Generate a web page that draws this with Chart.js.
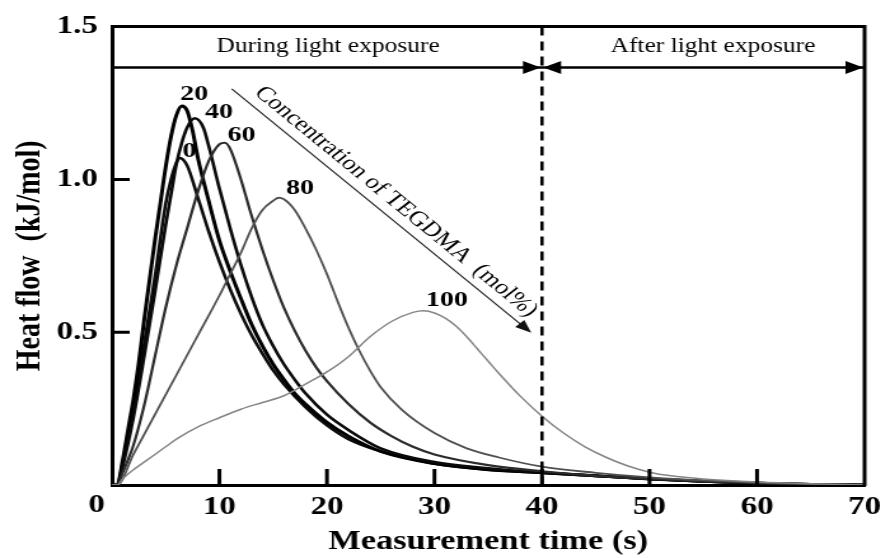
<!DOCTYPE html>
<html>
<head>
<meta charset="utf-8">
<script src="https://cdn.jsdelivr.net/npm/chart.js@4.4.1/dist/chart.umd.min.js"></script>
<style>
  html, body { margin: 0; padding: 0; background: #fff; }
</style>
</head>
<body>
<canvas id="chart-area" width="700" height="558" style="width:890px;height:558px"></canvas>
<script>
// TEGDMA concentration of each curve (mol%)
const concentrations = ['0', '20', '40', '60', '80', '100'];

// measurement time (s) and heat flow (kJ/mol) per concentration
const time0  = [0, 0.5, 1, 2, 3, 4, 5, 5.5, 6, 6.3, 7, 8, 9, 10, 11, 12, 13, 14, 15, 16, 18, 20, 22, 25, 30, 35, 40, 45, 50, 55, 60, 65, 70];
const flow0  = [0, 0, 0.07, 0.25, 0.46, 0.68, 0.92, 1.0, 1.055, 1.07, 1.045, 0.94, 0.83, 0.73, 0.64, 0.56, 0.49, 0.43, 0.375, 0.33, 0.255, 0.195, 0.15, 0.11, 0.07, 0.05, 0.04, 0.03, 0.02, 0.012, 0.006, 0.002, 0];

const time20 = [0, 0.5, 1, 1.5, 2, 2.5, 3, 3.5, 4, 4.5, 5, 5.5, 6, 6.5, 7, 7.5, 8, 9, 10, 11, 12, 13, 14, 15, 16, 17, 18, 20, 22, 25, 30, 35, 40, 45, 50, 55, 60, 65, 70];
const flow20 = [0, 0, 0.08, 0.18, 0.28, 0.4, 0.54, 0.67, 0.8, 0.92, 1.04, 1.14, 1.21, 1.24, 1.225, 1.16, 1.07, 0.93, 0.8, 0.7, 0.61, 0.525, 0.455, 0.395, 0.345, 0.3, 0.265, 0.205, 0.16, 0.11, 0.07, 0.05, 0.04, 0.03, 0.02, 0.012, 0.006, 0.002, 0];

const time40 = [0, 0.5, 1, 2, 3, 4, 5, 5.5, 6, 6.5, 7, 7.7, 8.5, 9, 10, 11, 12, 13, 14, 15, 16, 17, 18, 20, 22, 25, 30, 35, 40, 45, 50, 55, 60, 65, 70];
const flow40 = [0, 0, 0.06, 0.22, 0.42, 0.63, 0.85, 0.95, 1.05, 1.12, 1.17, 1.2, 1.17, 1.11, 0.97, 0.84, 0.72, 0.615, 0.525, 0.455, 0.395, 0.345, 0.3, 0.23, 0.18, 0.12, 0.075, 0.055, 0.04, 0.03, 0.02, 0.012, 0.006, 0.002, 0];

const time60 = [0, 0.5, 1, 2, 3, 4, 5, 6, 7, 8, 9, 10, 10.5, 11, 12, 13, 14, 15, 16, 17, 18, 19, 20, 22, 24, 26, 28, 30, 35, 40, 45, 50, 55, 60, 65, 70];
const flow60 = [0, 0, 0.04, 0.13, 0.26, 0.42, 0.58, 0.72, 0.84, 0.96, 1.06, 1.115, 1.12, 1.1, 1.0, 0.88, 0.77, 0.67, 0.58, 0.505, 0.44, 0.385, 0.34, 0.265, 0.205, 0.16, 0.125, 0.1, 0.065, 0.045, 0.03, 0.02, 0.012, 0.006, 0.002, 0];

const time80 = [0, 0.5, 2, 4, 6, 8, 10, 11, 12, 13, 14, 15, 15.5, 16, 17, 18, 19, 20, 21, 22, 23, 24, 25, 27, 30, 33, 36, 40, 45, 50, 55, 60, 65, 70];
const flow80 = [0, 0, 0.1, 0.23, 0.36, 0.49, 0.62, 0.69, 0.76, 0.84, 0.9, 0.93, 0.94, 0.935, 0.9, 0.84, 0.77, 0.69, 0.6, 0.515, 0.44, 0.375, 0.32, 0.245, 0.17, 0.12, 0.09, 0.06, 0.04, 0.025, 0.015, 0.008, 0.003, 0];

const time100 = [0, 0.5, 1, 2, 3, 4, 5, 6, 8, 10, 12, 14, 16, 18, 20, 22, 24, 26, 28, 29, 30, 31, 32, 33, 34, 35, 36, 38, 40, 42, 44, 46, 48, 50, 52, 55, 60, 65, 70];
const flow100 = [0, 0, 0.02, 0.05, 0.075, 0.1, 0.125, 0.15, 0.19, 0.22, 0.248, 0.27, 0.292, 0.33, 0.37, 0.42, 0.485, 0.535, 0.565, 0.57, 0.563, 0.546, 0.52, 0.485, 0.445, 0.405, 0.365, 0.29, 0.225, 0.17, 0.125, 0.09, 0.062, 0.042, 0.03, 0.02, 0.01, 0.004, 0];

const times = [time0, time20, time40, time60, time80, time100];
const flows = [flow0, flow20, flow40, flow60, flow80, flow100];

const xTicks = [0, 10, 20, 30, 40, 50, 60, 70];
const yTicks = [0, 0.5, 1.0, 1.5];

// styling
const serif = "'Liberation Serif', 'Times New Roman', serif";
const lineColors = ['#0c0c0c', '#000000', '#0a0a0a', '#2b2b2b', '#505050', '#858585'];
const lineWidths = [2.6, 3.0, 2.6, 2.2, 1.8, 1.5];
// where each concentration number sits (time, heat flow)
const labelAt = [[7.2, 1.093], [7.65, 1.277], [9.95, 1.219], [12.07, 1.145], [17.5, 0.971], [31.15, 0.605]];
const exposureEnd = 40;
const bandY = 1.366;
const bandTextY = 1.435;
const trendFrom = [11.15, 1.296];
const trendTo = [39.0, 0.498];

function arrowHead(ctx, tipX, tipY, ux, uy, len, half) {
  // filled triangle pointing along (ux, uy)
  const bx = tipX - ux * len, by = tipY - uy * len;
  ctx.beginPath();
  ctx.moveTo(tipX, tipY);
  ctx.lineTo(bx - uy * half, by + ux * half);
  ctx.lineTo(bx + uy * half, by - ux * half);
  ctx.closePath();
  ctx.fill();
}

const decorations = {
  id: 'decorations',
  beforeDatasetsDraw(chart) {
    const {ctx, scales: {x, y}} = chart;
    ctx.save();
    ctx.fillStyle = '#000';
    ctx.font = 'bold 22px ' + serif;
    ctx.textAlign = 'center';
    ctx.textBaseline = 'middle';
    concentrations.forEach((c, i) => {
      ctx.fillText(c, x.getPixelForValue(labelAt[i][0]), y.getPixelForValue(labelAt[i][1]));
    });
    ctx.restore();
  },
  afterDraw(chart) {
    const {ctx, chartArea: a, scales: {x, y}} = chart;
    ctx.save();
    ctx.strokeStyle = '#000';
    ctx.fillStyle = '#000';

    // top and right of the frame
    ctx.lineWidth = 3;
    ctx.beginPath();
    ctx.moveTo(a.left - 1, a.top);
    ctx.lineTo(a.right, a.top);
    ctx.lineTo(a.right, a.bottom + 1);
    ctx.stroke();

    // inward ticks
    ctx.lineWidth = 3;
    ctx.beginPath();
    [0.5, 1.0].forEach(v => {
      const py = y.getPixelForValue(v);
      ctx.moveTo(a.left, py);
      ctx.lineTo(a.left + 14, py);
    });
    [10, 20, 30, 40, 50, 60].forEach(v => {
      const px = x.getPixelForValue(v);
      ctx.moveTo(px, a.bottom);
      ctx.lineTo(px, a.bottom - 16);
    });
    ctx.stroke();

    // shared origin label
    ctx.font = 'bold 26px ' + serif;
    ctx.textAlign = 'center';
    ctx.textBaseline = 'middle';
    ctx.fillText('0', x.getPixelForValue(0) - 12, a.bottom + 20);

    // end of light exposure
    const xe = x.getPixelForValue(exposureEnd);
    ctx.lineWidth = 2.6;
    ctx.setLineDash([9, 6]);
    ctx.beginPath();
    ctx.moveTo(xe, a.top);
    ctx.lineTo(xe, a.bottom);
    ctx.stroke();
    ctx.setLineDash([]);

    // exposure band with arrows
    const yb = y.getPixelForValue(bandY);
    ctx.lineWidth = 2.4;
    ctx.beginPath();
    ctx.moveTo(a.left, yb);
    ctx.lineTo(a.right, yb);
    ctx.stroke();
    arrowHead(ctx, xe - 1, yb, 1, 0, 14, 6.5);
    arrowHead(ctx, xe + 1, yb, -1, 0, 14, 6.5);
    arrowHead(ctx, a.right - 1, yb, 1, 0, 14, 6.5);

    ctx.font = '20px ' + serif;
    ctx.textBaseline = 'middle';
    const yt = y.getPixelForValue(bandTextY);
    ctx.fillText('During light exposure', x.getPixelForValue(20.1), yt);
    ctx.fillText('After light exposure', x.getPixelForValue(55.9), yt);

    // concentration trend arrow
    const x0 = x.getPixelForValue(trendFrom[0]), y0 = y.getPixelForValue(trendFrom[1]);
    const x1 = x.getPixelForValue(trendTo[0]), y1 = y.getPixelForValue(trendTo[1]);
    const len = Math.hypot(x1 - x0, y1 - y0);
    const ux = (x1 - x0) / len, uy = (y1 - y0) / len;
    ctx.strokeStyle = '#222';
    ctx.fillStyle = '#111';
    ctx.lineWidth = 1.2;
    ctx.beginPath();
    ctx.moveTo(x0, y0);
    ctx.lineTo(x1 - ux * 8, y1 - uy * 8);
    ctx.stroke();
    arrowHead(ctx, x1, y1, ux, uy, 13, 5);

    ctx.translate(x0, y0);
    ctx.rotate(Math.atan2(uy, ux));
    ctx.fillStyle = '#000';
    ctx.font = '21px ' + serif;
    ctx.textAlign = 'left';
    ctx.textBaseline = 'alphabetic';
    ctx.fillText('Concentration of TEGDMA  (mol%)', 15, -9);
    ctx.restore();
  }
};

const datasets = concentrations.map((c, i) => ({
  label: c + ' mol%',
  data: times[i].map((t, k) => ({x: t, y: flows[i][k]})),
  borderColor: lineColors[i],
  borderWidth: lineWidths[i],
  fill: false,
  radius: 0,
  cubicInterpolationMode: 'monotone',
  order: 6 - i
}));

const tickFont = {family: serif, size: 26, weight: 'bold'};
const titleFont = {family: serif, size: 27, weight: 'bold'};

const ctx = document.getElementById('chart-area').getContext('2d');
new Chart(ctx, {
  type: 'line',
  data: {datasets: datasets},
  plugins: [decorations],
  options: {
    responsive: false,
    animation: false,
    events: [],
    layout: {padding: {top: 17, right: 14, bottom: 0, left: 0}},
    plugins: {
      legend: {display: false},
      tooltip: {enabled: false}
    },
    scales: {
      x: {
        type: 'linear',
        min: 0,
        max: 70,
        afterFit: (scale) => { scale.height = 73; },
        afterBuildTicks: (scale) => { scale.ticks = xTicks.map(v => ({value: v})); },
        ticks: {
          color: '#000',
          font: tickFont,
          padding: 7,
          maxRotation: 0,
          autoSkip: false,
          callback: (value) => value === 0 ? '' : String(value)
        },
        grid: {display: true, drawOnChartArea: false, drawTicks: false, color: '#000'},
        border: {display: true, color: '#000', width: 3},
        title: {
          display: true,
          text: 'Measurement time (s)',
          color: '#000',
          font: titleFont,
          padding: {top: 0, bottom: 0}
        }
      },
      y: {
        min: 0,
        max: 1.5,
        afterFit: (scale) => { scale.width = 88; },
        afterBuildTicks: (scale) => { scale.ticks = yTicks.map(v => ({value: v})); },
        ticks: {
          color: '#000',
          font: tickFont,
          padding: 11,
          autoSkip: false,
          callback: (value) => value === 0 ? '' : value.toFixed(1)
        },
        grid: {display: true, drawOnChartArea: false, drawTicks: false, color: '#000'},
        border: {display: true, color: '#000', width: 3},
        title: {
          display: true,
          text: 'Heat flow  (kJ/mol)',
          color: '#000',
          font: {family: serif, size: 28, weight: 'bold'},
          padding: {top: 7, bottom: 0}
        }
      }
    }
  }
});
</script>
</body>
</html>
